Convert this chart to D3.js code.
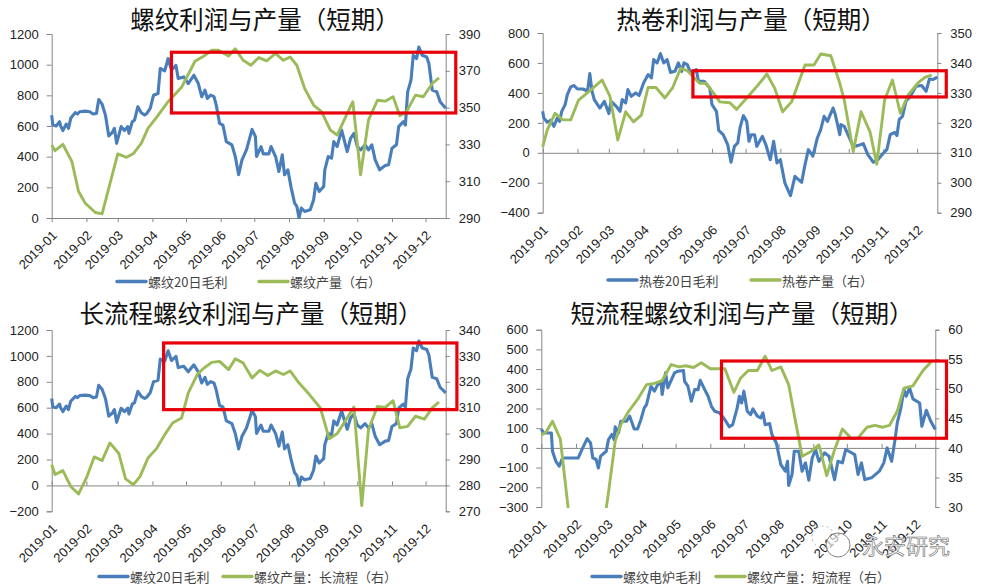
<!DOCTYPE html>
<html><head><meta charset="utf-8">
<script src="https://cdn.jsdelivr.net/npm/d3@7/dist/d3.min.js"></script>
<style>html,body{margin:0;padding:0;background:#fff;overflow:hidden}svg{display:block}</style>
</head><body><svg id="c" width="982" height="586"></svg>
<script>
// Series: x = days since 2019-01-01, y = values.
const monthLabels = ["2019-01","2019-02","2019-03","2019-04","2019-05","2019-06","2019-07","2019-08","2019-09","2019-10","2019-11","2019-12"];

const rebarProfitDays = [0,1,4,7,8,10,13,15,17,21,23,25,30,34,37,40,42,45,48,51,54,56,58,62,65,68,69,72,74,77,80,83,85,88,91,95,97,101,104,107,111,113,118,122,127,131,134,137,139,142,145,147,150,153,156,161,164,167,170,174,179,182,183,187,189,194,196,200,203,206,208,211,214,217,219,221,223,226,231,234,236,239,243,244,247,250,252,255,259,264,267,270,273,276,280,283,286,289,293,298,301,304,308,310,314,316,318,321,323,326,328,331,335,337,340,344,347,352];
const rebarProfit = [671,606,600,628,600,570,613,585,650,687,678,693,697,693,678,682,773,743,671,535,557,585,487,596,570,596,552,628,639,726,687,671,682,715,801,812,975,960,1040,964,996,910,920,877,931,877,791,834,780,801,791,736,617,606,498,477,401,282,379,444,578,531,401,466,418,418,466,401,303,412,282,314,195,97,76,0,65,43,54,119,227,173,206,314,401,390,498,466,574,433,520,552,466,444,477,444,477,379,314,342,347,455,477,596,628,606,823,899,1061,1040,1115,1061,1050,1007,834,823,758,715];

const rebarOutputDays = [0,3,10,18,24,30,39,45,59,67,73,80,86,94,104,116,128,136,143,149,158,164,171,178,185,192,200,207,213,219,226,234,241,249,255,262,269,276,283,291,298,305,311,317,325,332,340,346];
const rebarOutput = [329.7,326.6,330,320.7,304.4,298,293,292.2,324.8,323,325,330.6,338.7,345,353.2,361,375.2,378,381.2,381.2,378,382,375.7,373,377.2,375.4,379.4,375.7,377.5,373,360.4,351.4,347.8,337.8,335.1,344.2,353.2,313.5,343.2,354,353.5,355.9,345.6,347.8,356.8,355.9,363.1,366.2];

const coilProfitDays = [0,1,4,7,10,13,15,17,20,22,25,28,31,36,40,42,44,46,51,55,59,61,65,69,71,74,76,79,83,86,90,94,97,99,102,105,108,111,114,118,121,124,126,129,132,137,139,144,149,151,155,157,161,165,168,171,174,176,179,182,184,186,189,191,196,199,203,206,209,212,216,221,225,231,234,237,241,245,248,251,254,259,261,265,266,269,277,281,286,290,295,299,304,307,310,314,316,318,321,324,328,333,338,342,345,348,352];
const coilProfit = [277,233,204,217,177,233,210,277,322,388,440,449,426,426,411,529,411,355,299,344,262,344,315,277,355,333,422,377,400,382,466,522,500,622,600,662,600,622,537,544,600,544,600,589,533,555,477,477,433,322,277,150,121,55,-63,43,66,166,248,210,77,121,121,43,110,55,-46,77,-68,-46,-201,-286,-157,-197,-79,21,-23,99,155,244,210,299,255,121,188,177,43,48,61,-12,-63,-46,-1,21,121,137,115,221,244,344,377,444,449,411,493,489,506];

const coilOutputDays = [0,4,11,18,25,32,43,53,60,67,74,81,88,94,101,109,116,123,129,140,146,158,167,173,183,192,200,207,214,222,234,242,248,257,265,269,277,284,292,298,305,312,319,326,335,341,347];
const coilOutput = [312,317.6,323.2,321,321,327.6,331,334.3,328.8,314.3,323.7,320.3,322.6,331.8,331.8,328.3,331.8,338.2,337.4,333.2,333.2,327,326.7,324.5,328.7,332.6,336.3,331.5,323.7,327,339.3,339.3,343,342.4,333.2,327.6,310.4,323.7,317,306.2,327.6,334.3,323.2,329.3,333.4,335.2,335.9];

const longOutputDays = [0,3,10,17,24,31,38,45,52,60,66,73,79,86,94,101,108,116,122,130,136,143,150,158,164,171,179,186,193,200,207,213,221,229,240,248,255,262,270,277,283,291,298,305,311,318,325,333,340,346];
const longOutput = [288,284.2,285.7,279.6,276.7,282.9,291,289.6,296.4,292.3,282.5,280.3,283.5,290.6,294.4,299.6,304.1,306,315.7,322.8,325.3,327.5,327.9,324.7,328.9,327.3,321.5,324.4,322.4,324.2,322.8,324.2,319.5,315.7,309.9,298,300,304.7,310.3,272.2,301.5,310.5,310.1,312.7,302.2,302.8,306.7,305.6,309.9,312.2];

const furnaceProfitDays = [0,2,9,10,13,16,19,33,37,41,44,46,49,51,53,58,60,63,65,66,69,71,76,79,83,86,89,92,94,98,101,104,107,108,111,113,119,122,127,128,131,134,137,140,142,146,149,152,155,159,163,168,171,175,177,179,181,184,187,189,193,196,198,200,204,206,210,214,218,220,221,224,226,230,233,236,239,242,245,248,253,257,262,265,269,272,280,283,286,289,295,302,306,309,313,316,318,321,324,326,329,332,338,340,344,348,352];
const furnaceProfit = [96,76,76,-17,-68,-93,-51,-51,0,47,25,-51,-59,-102,-42,-17,42,68,42,107,76,135,135,161,96,96,144,203,220,313,288,321,330,271,381,305,381,389,393,338,313,237,296,296,343,296,262,211,186,178,152,107,118,203,262,228,288,186,169,198,161,152,178,118,124,68,25,-85,-118,-68,-191,-135,-17,-17,-118,-76,-164,-51,-8,-68,-25,-42,-161,-68,-76,-8,-34,-135,-76,-161,-152,-118,-76,0,-68,42,127,195,296,262,305,249,228,110,191,135,93];

const shortOutputDays = [0,4,10,17,24,41,58,60,66,71,78,86,94,101,108,116,123,129,136,143,151,164,172,178,185,193,200,206,214,221,228,233,241,248,255,262,269,277,283,291,298,305,311,318,324,332,341,348];
const shortOutput = [42.2,42.6,44.5,41.5,29.8,20,29.8,32.4,41.1,43.9,46.2,48.2,50.7,50.9,51.4,54.1,53.7,53.9,53.6,54.4,53.4,53.4,49.4,51.8,53.1,53.1,55.5,53.1,53.7,50.7,43.6,38.6,39.4,40.5,35.3,39.7,43.2,41.6,41.7,43.5,43.8,43.5,43.8,46.2,50.1,50.5,53.1,54.5];

const ticksLeft1 = [0,200,400,600,800,1000,1200];
const ticksRight1 = [290,310,330,350,370,390];
const ticksLeft2 = [-400,-200,0,200,400,600,800];
const ticksRight2 = [290,300,310,320,330,340,350];
const ticksLeft3 = [-200,0,200,400,600,800,1000,1200];
const ticksRight3 = [270,280,290,300,310,320,330,340];
const ticksLeft4 = [-300,-200,-100,0,100,200,300,400,500,600];
const ticksRight4 = [30,35,40,45,50,55,60];

// Highlight boxes: [first day, last day, upper left-axis value, lower left-axis value]
const box1 = [107,361,1081,685];
const box2 = [134.3,360,548,373];
const box3 = [100.7,362.6,1100,585];
const box4 = [161.2,362.2,441,49];

const BLUE="#4a7ebb", GREEN="#9bbb59", RED="#e8000a", AXIS="#868686", TXT="#222";
const CJK='"Noto Sans CJK SC","Noto Sans",sans-serif';
const NUM='"Liberation Sans",Arial,sans-serif';
const t0 = new Date(2019,0,1);
const toDate = d => new Date(2019,0,1+d);
const monthDates = monthLabels.map((_,i)=>new Date(2019,i,1));
const svg = d3.select("#c");

function chart(o, idx){
  const {l,r,t,b} = o;
  const x = d3.scaleTime().domain([t0,toDate(352)]).range([l,r]);
  const yL = d3.scaleLinear().domain(d3.extent(o.leftTicks)).range([b,t]);
  const yR = d3.scaleLinear().domain(d3.extent(o.rightTicks)).range([b,t]);
  const g = svg.append("g");
  const clipId="clip"+idx;
  svg.append("clipPath").attr("id",clipId).append("rect").attr("x",l-2).attr("y",t-2).attr("width",r-l+4).attr("height",b-t+3);

  g.append("text").attr("x",o.titleX).attr("y",o.titleY).attr("text-anchor","middle").attr("dominant-baseline","central")
    .attr("font-family",CJK).attr("font-size",24.5).attr("fill","#111").text(o.title);

  const style = s => { s.attr("font-family",NUM).attr("font-size",13).attr("color",AXIS);
    s.selectAll("text").attr("fill",TXT); s.selectAll("path,line").attr("stroke",AXIS).attr("stroke-width",1); };

  g.append("g").attr("transform",`translate(${l},0)`).call(d3.axisLeft(yL).tickValues(o.leftTicks).tickFormat(d3.format("d")).tickSize(5).tickPadding(8).tickSizeOuter(5)).call(style);
  g.append("g").attr("transform",`translate(${r},0)`).call(d3.axisRight(yR).tickValues(o.rightTicks).tickFormat(d3.format("d")).tickSize(4).tickPadding(9).tickSizeOuter(4)).call(style);

  const zeroAtBottom = yL(0)===b;
  const ax = zeroAtBottom ? d3.axisBottom(x) : d3.axisTop(x);
  g.append("g").attr("transform",`translate(0,${yL(0)})`).call(ax.tickValues(monthDates).tickSize(4).tickSizeOuter(0).tickFormat(()=>"")).call(style);

  g.selectAll(null).data(monthDates).join("text")
    .attr("transform",(d)=>`translate(${x(d)+3},${b+15}) rotate(-45)`)
    .attr("text-anchor","end").attr("dominant-baseline","central")
    .attr("font-family",NUM).attr("font-size",13).attr("fill",TXT)
    .text((d,i)=>monthLabels[i]);

  const path = (days,vals,scale)=>d3.line().x(i=>x(toDate(days[i]))).y(i=>scale(vals[i]))(d3.range(days.length));
  g.append("path").attr("d",path(o.blueDays,o.blue,yL)).attr("fill","none").attr("stroke",BLUE).attr("stroke-width",3.1).attr("stroke-linejoin","round").attr("clip-path",`url(#${clipId})`);
  g.append("path").attr("d",path(o.greenDays,o.green,yR)).attr("fill","none").attr("stroke",GREEN).attr("stroke-width",2.9).attr("stroke-linejoin","round").attr("clip-path",`url(#${clipId})`);

  g.append("rect").attr("x",x(toDate(o.box[0]))).attr("width",x(toDate(o.box[1]))-x(toDate(o.box[0])))
    .attr("y",yL(o.box[2])).attr("height",yL(o.box[3])-yL(o.box[2]))
    .attr("fill","none").attr("stroke",RED).attr("stroke-width",3.2);

  const leg = [[o.legA,o.nameA,BLUE],[o.legB,o.nameB,GREEN]];
  leg.forEach(([lx,name,c])=>{
    g.append("line").attr("x1",lx).attr("x2",lx+29).attr("y1",o.legY).attr("y2",o.legY).attr("stroke",c).attr("stroke-width",3.4).attr("stroke-linecap","round");
    g.append("text").attr("x",lx+31).attr("y",o.legY).attr("dominant-baseline","central").attr("font-family",CJK).attr("font-size",13).attr("fill","#444").text(name);
  });
}

chart({title:"螺纹利润与产量（短期）",titleX:265,titleY:18,l:51.7,r:445.7,t:34,b:218,leftTicks:ticksLeft1,rightTicks:ticksRight1,
  blueDays:rebarProfitDays,blue:rebarProfit,greenDays:rebarOutputDays,green:rebarOutput,box:box1,
  nameA:"螺纹20日毛利",nameB:"螺纹产量（右）",legA:117,legB:259,legY:281.5},1);
chart({title:"热卷利润与产量（短期）",titleX:751,titleY:18,l:542.7,r:937.3,t:33,b:212.7,leftTicks:ticksLeft2,rightTicks:ticksRight2,
  blueDays:coilProfitDays,blue:coilProfit,greenDays:coilOutputDays,green:coilOutput,box:box2,
  nameA:"热卷20日毛利",nameB:"热卷产量（右）",legA:608,legB:751,legY:280},2);
chart({title:"长流程螺纹利润与产量（短期）",titleX:251,titleY:312,l:51.7,r:445.7,t:330,b:511.3,leftTicks:ticksLeft3,rightTicks:ticksRight3,
  blueDays:rebarProfitDays,blue:rebarProfit,greenDays:longOutputDays,green:longOutput,box:box3,
  nameA:"螺纹20日毛利",nameB:"螺纹产量：长流程（右）",legA:99,legB:223,legY:576.5},3);
chart({title:"短流程螺纹利润与产量（短期）",titleX:742,titleY:312,l:541.3,r:935.3,t:329.7,b:507,leftTicks:ticksLeft4,rightTicks:ticksRight4,
  blueDays:furnaceProfitDays,blue:furnaceProfit,greenDays:shortOutputDays,green:shortOutput,box:box4,
  nameA:"螺纹电炉毛利",nameB:"螺纹产量：短流程（右）",legA:592,legB:716,legY:576.5},4);

// Watermark
const wm = svg.append("g");
wm.append("circle").attr("cx",823).attr("cy",537).attr("r",11).attr("fill","none").attr("stroke","#999").attr("stroke-width",0.8).attr("stroke-dasharray","2 3");
wm.append("circle").attr("cx",838).attr("cy",545).attr("r",12).attr("fill","#fff").attr("fill-opacity",0.6).attr("stroke","#777").attr("stroke-width",0.9);
wm.append("text").attr("x",862).attr("y",544).attr("dominant-baseline","central").attr("font-family",CJK).attr("font-size",22)
  .attr("fill","#fff").attr("fill-opacity",0.85).attr("stroke","#666").attr("stroke-width",0.6).text("永安研究");
</script></body></html>
